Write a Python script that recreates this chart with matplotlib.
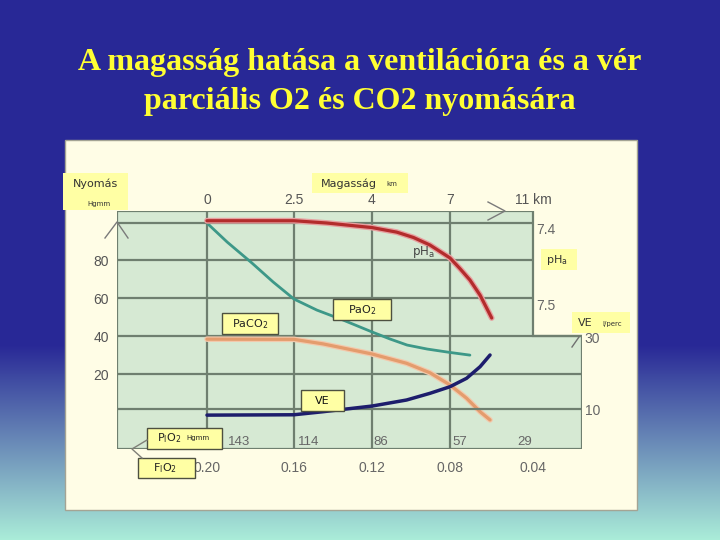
import numpy as np
import matplotlib
matplotlib.use('Agg')
import matplotlib.pyplot as plt
from matplotlib.patches import Rectangle, Polygon
from matplotlib.lines import Line2D
from matplotlib.transforms import blended_transform_factory

# ---------------- data ----------------
title_line1 = "A magasság hatása a ventilációra és a vér"
title_line2 = "parciális O2 és CO2 nyomására"

altitude_ticks_km = [0, 2.5, 4, 7, 11]
altitude_labels = ['0', '2.5', '4', '7', '11 km']
pio2_labels = ['143', '114', '86', '57', '29']
fio2_labels = ['0.20', '0.16', '0.12', '0.08', '0.04']
pressure_ticks = [80, 60, 40, 20]
ph_ticks = [7.4, 7.5]
ve_ticks = [30, 10]

ph_km = [0, 2.5, 3.13, 4, 4.95, 5.59, 6.23, 7, 7.48, 7.96, 8.45, 9.01]
ph_val = [7.397, 7.397, 7.400, 7.406, 7.412, 7.419, 7.429, 7.446, 7.460, 7.475, 7.495, 7.525]

pao2_km = [0, 0.58, 1.29, 1.90, 2.5, 2.94, 3.44, 4, 4.69, 5.35, 6.12, 7, 7.96]
pao2_val = [99.7, 89.7, 78.7, 68.7, 59.7, 53.9, 48.7, 42.4, 38.7, 35.5, 33.4, 31.6, 30.2]

paco2_km = [0, 2.5, 3.06, 4.0, 5.33, 6.23, 7, 7.8, 8.45, 8.93]
paco2_val = [38.6, 38.5, 36.1, 30.8, 25.9, 20.9, 14.5, 7.5, 0.4, -3.9]

ve_km = [0, 2.5, 3.06, 4.01, 5.33, 6.23, 7, 7.8, 8.45, 8.93]
ve_val = [8.3, 8.4, 9.25, 10.83, 12.5, 14.36, 16.19, 18.53, 21.75, 25.0]

# ---------------- layout helpers ----------------
W, H = 720, 540
fig = plt.figure(figsize=(7.2, 5.4), dpi=100)
plt.rcParams['font.family'] = ['DejaVu Sans']


def fx(px):
    return px / W


def fy(py):
    return 1 - py / H


# background gradient
bg = fig.add_axes([0, 0, 1, 1], zorder=-10)
bg.axis('off')
rows = np.arange(H)
t = np.clip((rows - 345) / 195.0, 0, 1)
c_top = np.array([0.16, 0.16, 0.59])
c_bot = np.array([0.67, 0.93, 0.85])
img = c_top[None, :] * (1 - t[:, None]) + c_bot[None, :] * t[:, None]
bg.imshow(img[:, None, :], aspect='auto', extent=[0, 1, 0, 1])

# cream panel
fig.add_artist(Rectangle((fx(65), fy(510)), fx(637) - fx(65), fy(140) - fy(510),
                         transform=fig.transFigure, facecolor='#fffde6',
                         edgecolor='#a4a494', lw=1.0, zorder=0))

# title
for txt, yb in [(title_line1, 70), (title_line2, 109)]:
    fig.text(0.5, fy(yb), txt, ha='center', va='baseline', fontsize=23,
             fontweight='bold', family='Liberation Serif', color='#ffff33', zorder=6)

# altitude scale (non-linear grid positions)
KM = np.array([0, 2.5, 4, 7, 11.0])
POS = np.array([0, 87, 165, 243, 326.0])
S0 = (POS[1] - POS[0]) / (KM[1] - KM[0])
S1 = (POS[-1] - POS[-2]) / (KM[-1] - KM[-2])


def fwd(x):
    x = np.asarray(x, float)
    y = np.interp(x, KM, POS)
    y = np.where(x < KM[0], POS[0] + (x - KM[0]) * S0, y)
    y = np.where(x > KM[-1], POS[-1] + (x - KM[-1]) * S1, y)
    return y


def inv(p):
    p = np.asarray(p, float)
    x = np.interp(p, POS, KM)
    x = np.where(p < POS[0], KM[0] + (p - POS[0]) / S0, x)
    x = np.where(p > POS[-1], KM[-1] + (p - POS[-1]) / S1, x)
    return x


x_left = float(inv(-90))
x_right = float(inv(375))
P_LO, P_HI = -19.21, 106.05

ax = fig.add_axes([fx(117), fy(449), fx(582) - fx(117), fy(211) - fy(449)], zorder=2)
ax.set_facecolor('none')
ax.set_xscale('function', functions=(fwd, inv))
ax.set_xlim(x_left, x_right)
ax.set_ylim(P_LO, P_HI)

grid_c = '#6f7f6f'
green = '#d6e9d3'
poly = [(x_left, P_LO), (x_left, P_HI), (11, P_HI), (11, 40), (x_right, 40), (x_right, P_LO)]
ax.add_patch(Polygon(poly, closed=True, facecolor=green, edgecolor=grid_c, lw=1.6, zorder=0))

ax.vlines([0, 2.5, 4, 7], P_LO, P_HI, color=grid_c, lw=1.6, zorder=1)
ax.hlines([80, 60], x_left, 11, color=grid_c, lw=1.6, zorder=1)
ax.hlines([40, 20], x_left, x_right, color=grid_c, lw=1.6, zorder=1)

ax.set_yticks(pressure_ticks)
ax.tick_params(axis='y', length=0, pad=6, labelsize=10, labelcolor='#555555',
               labelfontfamily='Liberation Sans')
ax.set_xticks(altitude_ticks_km, fio2_labels)
ax.tick_params(axis='x', length=0, pad=9, labelsize=10, labelcolor='#666666',
               labelfontfamily='Liberation Sans')
for sp in ax.spines.values():
    sp.set_visible(False)

# pH axis
ph_ax = ax.twinx()
ph_ax.set_ylim(7.6974, 7.3842)
ph_ax.hlines(7.4, x_left, 11, color=grid_c, lw=1.6, zorder=1)
ph_ax.set_yticks(ph_ticks)
ph_ax.spines['right'].set_position(('axes', (533 - 117) / (582 - 117)))
ph_ax.tick_params(axis='y', length=0, pad=2, labelsize=10, labelcolor='#666666',
                  labelfontfamily='Liberation Sans')
for lbl in ph_ax.get_yticklabels():
    lbl.set_va('top')
for sp in ph_ax.spines.values():
    sp.set_visible(False)

# VE axis
ve_ax = ax.twinx()
ve_ax.set_ylim(-1.11, 65)
ve_ax.hlines(10, x_left, x_right, color=grid_c, lw=1.6, zorder=1)
ve_ax.set_yticks(ve_ticks)
ve_ax.tick_params(axis='y', length=0, pad=2, labelsize=10, labelcolor='#666666',
                  labelfontfamily='Liberation Sans')
for sp in ve_ax.spines.values():
    sp.set_visible(False)

# top altitude axis
top_ax = ax.twiny()
top_ax.set_xscale('function', functions=(fwd, inv))
top_ax.set_xlim(x_left, x_right)
top_ax.set_xticks(altitude_ticks_km, altitude_labels)
top_ax.tick_params(axis='x', length=0, pad=3, labelsize=10, labelcolor='#555555',
                   labelfontfamily='Liberation Sans')
for sp in top_ax.spines.values():
    sp.set_visible(False)

# curves
ph_ax.plot(ph_km, ph_val, color='#e7a0a0', lw=4.2, solid_capstyle='round',
           solid_joinstyle='round', zorder=3)
ph_ax.plot(ph_km, ph_val, color='#b32c2c', lw=2.3, solid_capstyle='round',
           solid_joinstyle='round', zorder=4)
ax.plot(pao2_km, pao2_val, color='#3d9888', lw=2.0, solid_capstyle='round',
        solid_joinstyle='round', zorder=3)
ax.plot(paco2_km, paco2_val, color='#f3c9ac', lw=4.0, solid_capstyle='round',
        solid_joinstyle='round', zorder=3)
ax.plot(paco2_km, paco2_val, color='#e49c6d', lw=2.3, solid_capstyle='round',
        solid_joinstyle='round', zorder=4)
ve_ax.plot(ve_km, ve_val, color='#1d1d6c', lw=2.5, solid_capstyle='round',
           solid_joinstyle='round', zorder=4)

# PiO2 values inside the bottom of the grid
btrans = blended_transform_factory(ax.transData, ax.transAxes)
pio2_dx = [15, 3, 1, 2, -1]
for km, lbl, dx in zip(altitude_ticks_km, pio2_labels, pio2_dx):
    ax.annotate(lbl, xy=(km, 0), xycoords=btrans, xytext=(dx, 5), textcoords='offset points',
                ha='right' if dx < 0 else 'left', va='center', fontsize=9.5,
                color='#666666', family='Liberation Sans', zorder=5)

# curve label
fig.text(fx(423), fy(252), r'pH$_\mathregular{a}$', ha='center', va='center',
         fontsize=8.5, color='#444444', zorder=6)


# label boxes
def box(x0, y0, x1, y1, edge='none'):
    fig.add_artist(Rectangle((fx(x0), fy(y1)), fx(x1) - fx(x0), fy(y0) - fy(y1),
                             transform=fig.transFigure, facecolor='#ffffa4',
                             edgecolor=edge, lw=1.0, zorder=5))


def label(x, y, s, size=8, color='#333333', ha='center'):
    fig.text(fx(x), fy(y), s, ha=ha, va='center', fontsize=size, color=color, zorder=6)


box(63, 173, 128, 210)
label(96, 184, 'Nyomás')
label(99, 204, 'Hgmm', size=5)

box(312, 173, 408, 193)
label(349, 184, 'Magasság')
label(392, 184, 'km', size=5)

box(541, 249, 577, 270)
label(557, 260, r'pH$_\mathregular{a}$')

box(572, 312, 630, 333)
label(585, 323, 'VE')
label(612, 324, 'l/perc', size=5)

edge = '#4d5040'
box(333, 299, 391, 320, edge)
label(362, 310, r'PaO$_\mathregular{2}$', color='#222222')
box(222, 313, 278, 334, edge)
label(250, 324, r'PaCO$_\mathregular{2}$', color='#222222')
box(301, 390, 344, 411, edge)
label(322, 401, 'VE', color='#111111')
box(147, 428, 222, 449, edge)
label(169, 438, r'P$_\mathregular{I}$O$_\mathregular{2}$', color='#222222')
label(198, 438, 'Hgmm', size=5, color='#222222')
box(138, 458, 195, 478, edge)
label(165, 468, r'F$_\mathregular{I}$O$_\mathregular{2}$', color='#222222')


# decorations: leader lines and axis arrow heads
def polyline(pts, color='#808078', lw=1.0):
    xs = [fx(p[0]) for p in pts]
    ys = [fy(p[1]) for p in pts]
    fig.add_artist(Line2D(xs, ys, transform=fig.transFigure, color=color, lw=lw, zorder=7))


polyline([(147, 440), (132, 449), (142, 458)])
polyline([(572, 347), (579, 337)], color='#707070')
polyline([(105, 238), (117, 222), (128, 238)], color='#7a7a7a')
polyline([(488, 202), (505, 211), (488, 220)], color='#7a7a7a')

fig.savefig('out.png', dpi=100)
